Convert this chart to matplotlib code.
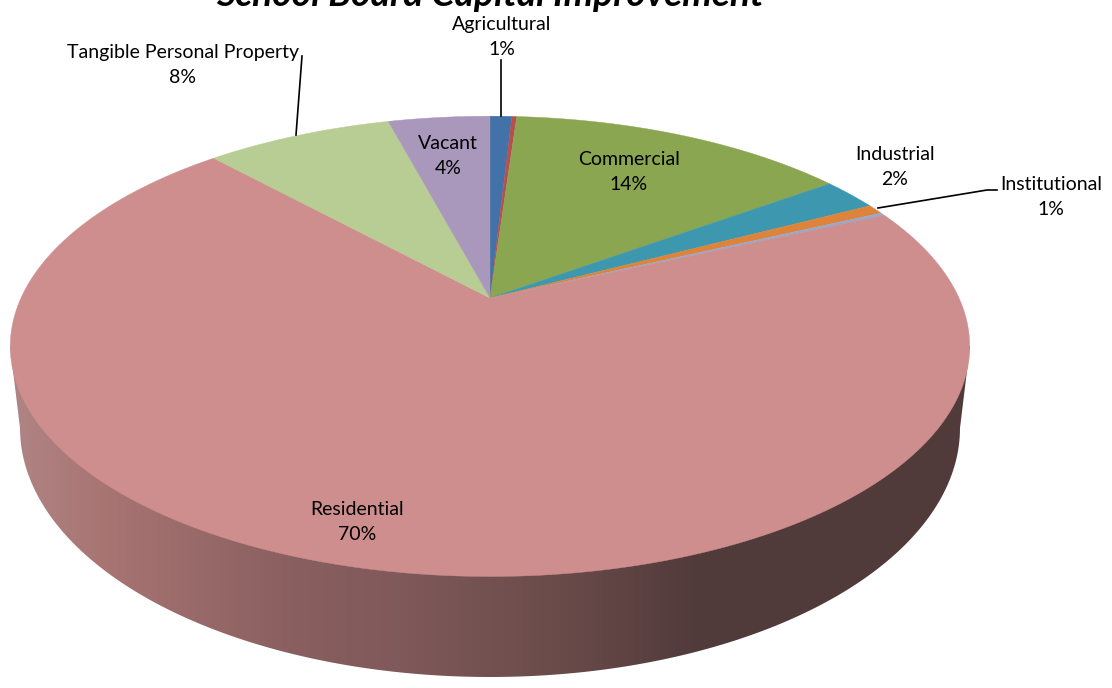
# pie with perspective, Excel 3D look
import numpy as np
import matplotlib
matplotlib.use('Agg')
import matplotlib.pyplot as plt

TITLE = 'School Board Capital Improvement'
categories = ['Agricultural', 'Other', 'Commercial', 'Industrial', 'Institutional',
              'Other 2', 'Residential', 'Tangible Personal Property', 'Vacant']
values = [0.9, 0.2, 14.0, 2.3, 0.7, 0.2, 69.8, 7.7, 4.2]
colors = ['#4272A8', '#B5504E', '#8AA651', '#3D98AF', '#DD843A',
          '#95A9CF', '#CE8E8E', '#B7CD94', '#A998BC']

# where the labels go, in pixels
label_pos = {'Agricultural': (502, 37), 'Commercial': (629, 172), 'Industrial': (895, 167),
             'Institutional': (1051, 197), 'Residential': (357, 522),
             'Tangible Personal Property': (183, 65), 'Vacant': (448, 156)}

# side shading left to right
shade_x = [10, 100, 290, 400, 550, 700, 970]
shade_rgb = [(176, 133, 133), (168, 117, 115), (138, 95, 96), (128, 89, 90),
             (107, 76, 75), (81, 58, 58), (81, 58, 58)]

# top face: disc seen in perspective, apex sits above ellipse centre
APEX_X, APEX_Y = 490, 298
A, B, K = 469, 220, 0.21


def project(theta):
    # theta clockwise from 12 o'clock, r=1 on the rim
    u, v = np.sin(theta), np.cos(theta)
    w = 1 + K * v
    return APEX_X + A * u / w, APEX_Y - B * v / w


fig = plt.figure(figsize=(11.12, 6.88), dpi=100)
ax = fig.add_axes([0, 0, 1, 1])
ax.set_xlim(0, 1112)
ax.set_ylim(688, 0)
ax.axis('off')

# side wall = bottom ellipse hull with gradient clipped to it
t = np.linspace(np.pi, 0, 200)
side_x = np.concatenate([[10], 490 + 470 * np.cos(t), [970]])
side_y = np.concatenate([[346], 428 + 249 * np.sin(t), [346]])
side_patch = plt.Polygon(np.column_stack([side_x, side_y]), closed=True, fc='none', ec='none')
ax.add_patch(side_patch)
cols = np.arange(0, 1112)
grad = np.stack([np.interp(cols, shade_x, [c[i] for c in shade_rgb]) for i in range(3)], axis=1) / 255
im = ax.imshow(grad[np.newaxis, :, :], extent=[0, 1112, 688, 0], aspect='auto', zorder=1)
im.set_clip_path(side_patch)
ax.set_xlim(0, 1112)
ax.set_ylim(688, 0)

# wedges
edges = np.cumsum([0] + values) / sum(values) * 2 * np.pi
for i in range(len(values)):
    a = np.linspace(edges[i], edges[i + 1], max(int(values[i] * 8), 4))
    x, y = project(a)
    ax.fill(np.r_[APEX_X, x], np.r_[APEX_Y, y], fc=colors[i], ec=colors[i], lw=0.3, zorder=2)

# labels
total = sum(values)
for name, (lx, ly) in label_pos.items():
    pct = values[categories.index(name)] / total * 100
    ax.text(lx, ly, '%s\n%d%%' % (name, round(pct)), ha='center', va='center',
            fontsize=14, family='Lato', color='black', linespacing=1.55, zorder=4)

# title runs off the top edge in the original too
ax.text(490, 6, TITLE, ha='center', va='baseline', fontsize=26.8, family='Lato',
        fontweight='bold', fontstyle='italic', zorder=4)

# leader lines
ax.plot([501, 501], [60, 116], color='black', lw=1.2, zorder=3)
ax.plot([296, 302], [135, 56], color='black', lw=1.2, zorder=3)
ax.plot([878, 987, 997], [208, 190, 190], color='black', lw=1.2, zorder=3)

fig.savefig('out.png', dpi=100)
